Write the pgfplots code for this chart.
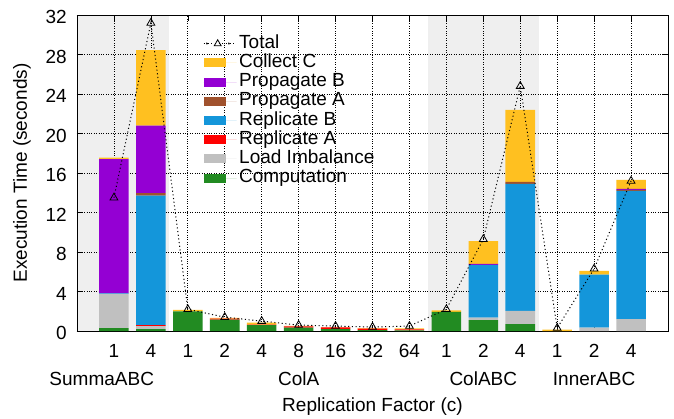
\documentclass[border=0pt]{standalone}
\usepackage{pgfplots}
\pgfplotsset{compat=1.18}
\usepackage{pgfplotstable}
\usepackage{fontspec}
\setmainfont{Liberation Sans}
\usetikzlibrary{calc}
\definecolor{cCollect}{HTML}{FFC020}
\definecolor{cPropB}{HTML}{9400D3}
\definecolor{cPropA}{HTML}{A0522D}
\definecolor{cRepB}{HTML}{1496DA}
\definecolor{cRepA}{HTML}{FF0000}
\definecolor{cLoad}{HTML}{C0C0C0}
\definecolor{cComp}{HTML}{228B22}
\definecolor{cBg}{HTML}{EFEFEF}
\newcommand{\F}{\fontsize{19}{22}\selectfont}
\tikzset{totdots/.style={dash pattern=on 1.1pt off 2.6pt, line width=1pt}}

\pgfplotstableread{
x comp load repa repb propa propb coll total
0 0.30 3.45 0.00 0.05 0.00 13.60 0.15 13.5
1 0.20 0.30 0.10 13.10 0.25 6.85 7.65 31.2
2 2.00 0.00 0.00 0.00 0.00 0.00 0.13 2.2
3 1.15 0.00 0.10 0.00 0.00 0.00 0.07 1.4
4 0.60 0.00 0.05 0.00 0.00 0.00 0.20 1.0
5 0.35 0.00 0.12 0.00 0.00 0.00 0.05 0.6
6 0.20 0.00 0.17 0.00 0.00 0.00 0.03 0.5
7 0.10 0.00 0.13 0.00 0.00 0.00 0.07 0.4
8 0.07 0.00 0.10 0.00 0.00 0.00 0.10 0.5
9 1.93 0.00 0.00 0.00 0.00 0.00 0.17 2.2
10 1.10 0.25 0.00 5.35 0.00 0.10 2.30 9.3
11 0.70 1.35 0.00 12.85 0.20 0.00 7.30 24.8
12 0.00 0.00 0.00 0.00 0.00 0.00 0.15 0.3
13 0.00 0.35 0.00 5.35 0.00 0.00 0.40 6.3
14 0.00 1.20 0.00 13.00 0.10 0.10 0.90 15.2
}\datatable

\begin{document}
\begin{tikzpicture}
% shaded group backgrounds
\begin{axis}[
  scale only axis,
  width=591pt, height=316pt,
  xmin=-1, xmax=15, ymin=0, ymax=32,
  hide axis,
]
\fill[cBg] (axis cs:-1,0) rectangle (axis cs:1.5,32);
\fill[cBg] (axis cs:8.5,0) rectangle (axis cs:11.5,32);
\end{axis}
% bars
\begin{axis}[
  scale only axis,
  width=591pt, height=316pt,
  xmin=-1, xmax=15, ymin=0, ymax=32,
  ytick={0,4,...,32},
  xtick={0,...,14},
  xticklabels={1,4,1,2,4,8,16,32,64,1,2,4,1,2,4},
  tick align=inside,
  major tick length=6pt,
  tick style={black, line width=0.6pt},
  grid=major,
  grid style={black, dotted, line width=0.7pt},
  axis line style={black, line width=0.9pt},
  ticklabel style={font=\F},
  /pgf/number format/assume math mode=true,
  yticklabel style={anchor=east, inner xsep=0pt, xshift=-10pt, yshift=-2pt},
  xticklabel style={anchor=base, inner sep=0pt, yshift=-26pt},
  clip=false,
  ybar stacked,
  bar width=0.8,
]
\addplot[fill=cComp, draw=none] table[x=x, y=comp] {\datatable};
\addplot[fill=cLoad, draw=none] table[x=x, y=load] {\datatable};
\addplot[fill=cRepA, draw=none] table[x=x, y=repa] {\datatable};
\addplot[fill=cRepB, draw=none] table[x=x, y=repb] {\datatable};
\addplot[fill=cPropA, draw=none] table[x=x, y=propa] {\datatable};
\addplot[fill=cPropB, draw=none] table[x=x, y=propb] {\datatable};
\addplot[fill=cCollect, draw=none] table[x=x, y=coll] {\datatable};
\coordinate (SW) at (rel axis cs:0,0);
\coordinate (gS) at (axis cs:-0.33,0);
\coordinate (gA) at (axis cs:5,0);
\coordinate (gB) at (axis cs:10,0);
\coordinate (gI) at (axis cs:13,0);
\end{axis}
% total line and legend
\begin{axis}[
  scale only axis,
  width=591pt, height=316pt,
  xmin=-1, xmax=15, ymin=0, ymax=32,
  hide axis, clip=false,
  legend style={
    draw=none, fill=none, inner sep=0pt,
    at={(rel axis cs:0.2132,0.940)}, anchor=north west,
    font=\F,
    row sep=0pt,
    nodes={inner ysep=0pt, text height=14.2pt, text depth=5pt},
    legend cell align=left,
  },
  legend image code/.code={\fill[#1] (0pt,-4.5pt) rectangle (22pt,4.5pt); \path (0pt,0pt) -- (33pt,0pt);},
]
\addplot[sharp plot, black, totdots, mark=triangle, mark size=4.5pt,
  mark options={solid, line width=0.8pt, fill=none},
  legend image code/.code={
    \fill[black] (3pt,0pt) circle (0.7pt);
    \fill[black] (25pt,0pt) circle (0.7pt);
    \draw[black, solid, line width=0.8pt] plot[mark=triangle, mark size=4pt] coordinates {(14pt,0pt)};
    \path (0pt,0pt) -- (33pt,0pt);
  }] table[x=x, y=total] {\datatable};
\addlegendentry{Total}
\addlegendimage{fill=cCollect, draw=none}
\addlegendentry{Collect C}
\addlegendimage{fill=cPropB, draw=none}
\addlegendentry{Propagate B}
\addlegendimage{fill=cPropA, draw=none}
\addlegendentry{Propagate A}
\addlegendimage{fill=cRepB, draw=none}
\addlegendentry{Replicate B}
\addlegendimage{fill=cRepA, draw=none}
\addlegendentry{Replicate A}
\addlegendimage{fill=cLoad, draw=none}
\addlegendentry{Load Imbalance}
\addlegendimage{fill=cComp, draw=none}
\addlegendentry{Computation}
\end{axis}
\node[font=\F, anchor=base] at ($(gS)+(0,-54pt)$) {SummaABC};
\node[font=\F, anchor=base] at ($(gA)+(0,-54pt)$) {ColA};
\node[font=\F, anchor=base] at ($(gB)+(0,-54pt)$) {ColABC};
\node[font=\F, anchor=base] at ($(gI)+(0,-54pt)$) {InnerABC};
\node[font=\F, anchor=base] at ($(SW)+(295.5pt,-80pt)$) {Replication Factor (c)};
\node[font=\F, anchor=base, rotate=90] at ($(SW)+(-50pt,158pt)$) {Execution Time (seconds)};
\pgfresetboundingbox
\path[use as bounding box] ($(SW)+(-77pt,-87pt)$) rectangle ($(SW)+(597pt,331pt)$);
\end{tikzpicture}
\end{document}
